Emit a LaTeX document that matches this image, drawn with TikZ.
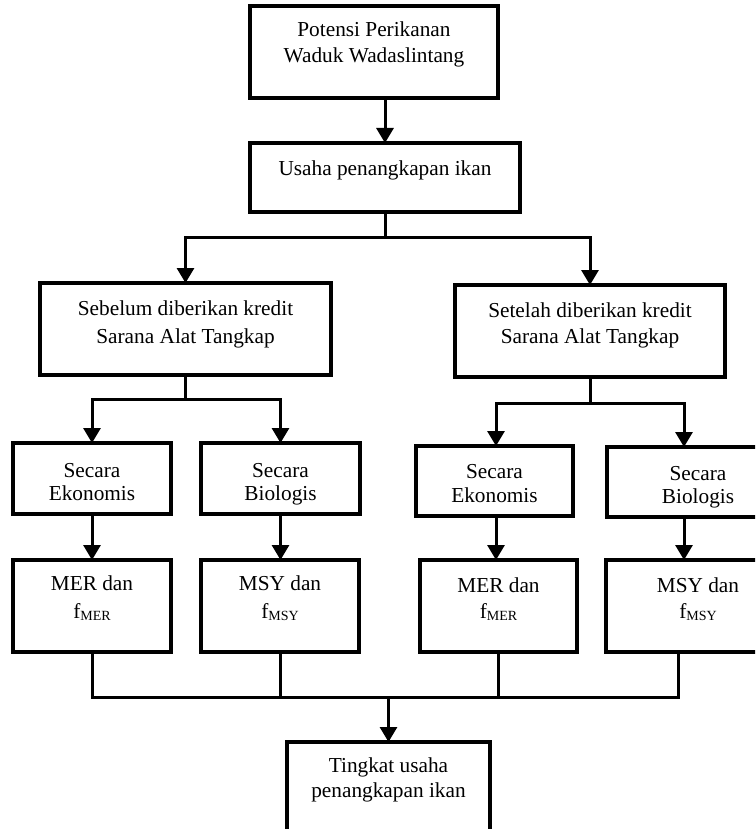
\documentclass[tikz,border=0pt]{standalone}
\usepackage{fontspec}
\setmainfont{Liberation Serif}
\usetikzlibrary{arrows.meta,calc}
\newcommand{\boxtext}[5]{\parbox[c][#2pt][t]{#1pt}{\centering\fontsize{21.3pt}{#4pt}\selectfont\vspace*{#3pt}\rule{0pt}{16pt}#5\par}}
\newcommand{\sbs}[1]{\raisebox{-2pt}{\fontsize{14pt}{14pt}\selectfont #1}}
\tikzset{
  boxn/.style={draw, line width=3.2pt, inner sep=0pt, outer sep=0pt, fill=white},
  conn/.style={line width=3pt},
  arr/.style={conn, -{Triangle[width=17pt,length=15pt]}},
  arrtwo/.style={conn, {Triangle[width=17pt,length=15pt]}-{Triangle[width=17pt,length=15pt]}}
}
\begin{document}
\begin{tikzpicture}[x=1pt,y=-1pt]
\useasboundingbox (0,0) rectangle (755,829);
\clip (0,0) rectangle (755,829);
\fill[white] (0,0) rectangle (755,829);

\node[boxn] (B1) at (374,52) {\boxtext{248}{92}{15}{26}{Potensi Perikanan\\Waduk Wadaslintang}};
\node[boxn] (B2) at (385,177.5) {\boxtext{270}{69}{16}{26}{Usaha penangkapan ikan}};
\node[boxn] (B3) at (185.5,329) {\boxtext{291}{92}{16}{28}{Sebelum diberikan kredit\\Sarana Alat Tangkap}};
\node[boxn] (B4) at (590,331) {\boxtext{270}{92}{16}{26}{Setelah diberikan kredit\\Sarana Alat Tangkap}};
\node[boxn] (B5) at (92,478.5) {\boxtext{158}{71}{18}{23}{Secara\\Ekonomis}};
\node[boxn] (B6) at (280.5,478.5) {\boxtext{159}{71}{18}{23}{Secara\\Biologis}};
\node[boxn] (B7) at (494.5,481) {\boxtext{157}{70}{16}{24}{Secara\\Ekonomis}};
\node[boxn] (B8) at (698,482) {\boxtext{182}{70}{17}{23}{Secara\\Biologis}};
\node[boxn] (B9) at (92,606) {\boxtext{158}{92}{14}{28}{MER dan\\f\sbs{MER}}};
\node[boxn] (B10) at (280,606) {\boxtext{158}{92}{14}{28}{MSY dan\\f\sbs{MSY}}};
\node[boxn] (B11) at (498.5,606) {\boxtext{157}{92}{16}{26}{MER dan\\f\sbs{MER}}};
\node[boxn] (B12) at (698,606) {\boxtext{184}{92}{16}{26}{MSY dan\\f\sbs{MSY}}};
\node[boxn] (B13) at (388.5,811) {\boxtext{203}{138}{14}{25}{Tingkat usaha\\penangkapan ikan}};

% top
\draw[arr] (B2.north |- B1.south) -- (B2.north);
\coordinate (j1) at (385,237);
\draw[conn] (B2.south) -- (j1);
\draw[arrtwo] (B3.north) |- (j1) -| (B4.north);

% left branch
\coordinate (j2) at (185.5,399);
\draw[conn] (B3.south) -- (j2);
\draw[arrtwo] (B5.north) |- (j2) -| (B6.north);
\draw[arr] (B5.south) -- (B9.north);
\draw[arr] (B6.south) -- (B6.south |- B10.north);

% right branch
\coordinate (j3) at (590,403);
\coordinate (p7) at ($(B7.south)+(1.5,0)$);
\coordinate (p8) at ($(B8.south west)+(77,0)$);
\coordinate (n7) at ($(B7.north)+(1.5,0)$);
\coordinate (n8) at ($(B8.north west)+(77,0)$);
\draw[conn] (B4.south) -- (j3);
\draw[arrtwo] (n7) |- (j3) -| (n8);
\draw[arr] (p7) -- (p7 |- B11.north);
\draw[arr] (p8) -- (p8 |- B12.north);

% bottom
\coordinate (j4) at (388.5,697);
\coordinate (q12) at ($(B12.south west)+(72,0)$);
\draw[conn] (B9.south) |- (j4) -| (q12);
\draw[conn] (B10.south) -- (B10.south |- j4);
\draw[conn] (B11.south) -- (B11.south |- j4);
\draw[arr] (j4) -- (B13.north);
\end{tikzpicture}
\end{document}
